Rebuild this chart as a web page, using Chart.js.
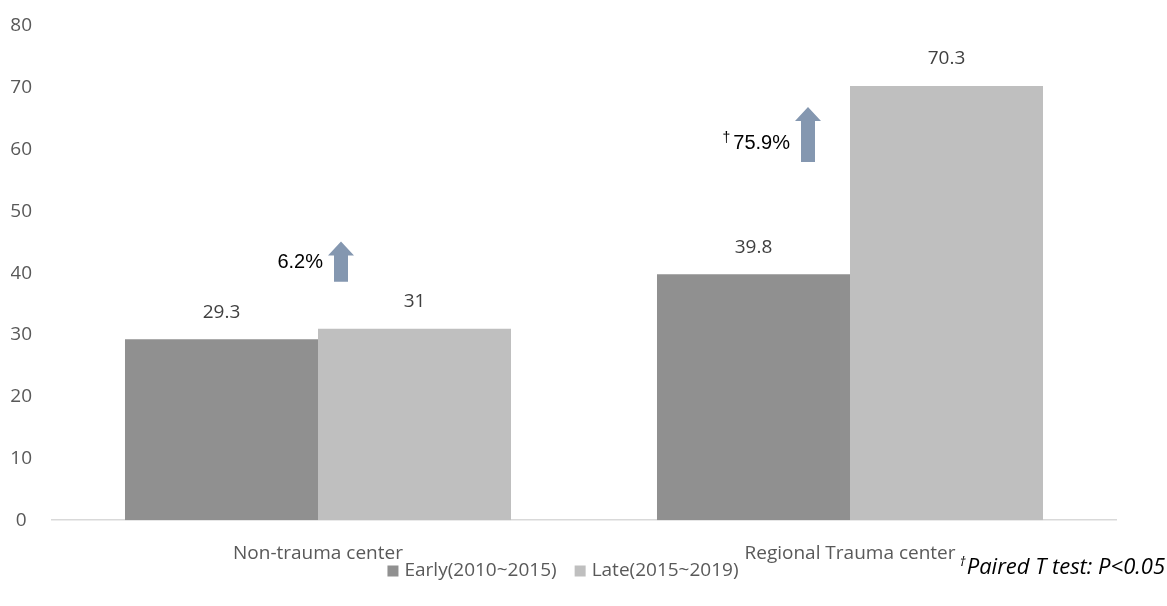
<!DOCTYPE html>
<html>
<head>
<meta charset="utf-8">
<script src="https://cdn.jsdelivr.net/npm/chart.js@4.4.1/dist/chart.umd.min.js"></script>
<style>
  html, body { margin: 0; padding: 0; background: #fff; }
  #wrap { width: 1167px; height: 606px; position: relative; }
</style>
</head>
<body>
<div id="wrap"><canvas id="graphe"></canvas></div>
<script>
// ---- données ----
const categories = ['Non-trauma center', 'Regional Trauma center'];
const nomsSeries = ['Early(2010~2015)', 'Late(2015~2019)'];
const valeursEarly = [29.3, 39.8];
const valeursLate = [31, 70.3];
const ticksY = [0, 10, 20, 30, 40, 50, 60, 70, 80];

// annotations (flèches de hausse)
const hausseTextes = ['6.2%', '75.9%'];
const hausseDague = [false, true];
const flecheBas = [38.6, 58.0];
const flecheHaut = [45.1, 66.9];
const texteNiveau = [41.7, 61.0];
const noteBas = 'Paired T test: P<0.05';

// ---- styles ----
const couleurs = ['#909090', '#bfbfbf'];
const couleurFleche = '#8497b0';
const grisTexte = '#595959';
const policeAxe = "'Open Sans', 'Noto Sans', sans-serif";
const decalageFleche = [23, -42];   // px par rapport au centre de la catégorie

const pluginAnnotations = {
    id: 'annotations',
    afterDatasetsDraw(chart) {
        const ctx = chart.ctx;
        const x = chart.scales.x;
        const y = chart.scales.y;

        // étiquettes de valeurs au-dessus des barres
        ctx.save();
        ctx.font = '19px ' + policeAxe;
        ctx.fillStyle = '#404040';
        ctx.textAlign = 'center';
        ctx.textBaseline = 'middle';
        chart.data.datasets.forEach((ds, i) => {
            chart.getDatasetMeta(i).data.forEach((barre, j) => {
                ctx.fillText(String(ds.data[j]), barre.x, barre.y - 27);
            });
        });
        ctx.restore();

        // flèches + pourcentages
        categories.forEach((c, i) => {
            const cx = x.getPixelForValue(i) + decalageFleche[i];
            const yb = y.getPixelForValue(flecheBas[i]);
            const yh = y.getPixelForValue(flecheHaut[i]);
            const tete = 14;
            ctx.save();
            ctx.fillStyle = couleurFleche;
            ctx.beginPath();
            ctx.moveTo(cx - 7, yb);
            ctx.lineTo(cx - 7, yh + tete);
            ctx.lineTo(cx - 13, yh + tete);
            ctx.lineTo(cx, yh);
            ctx.lineTo(cx + 13, yh + tete);
            ctx.lineTo(cx + 7, yh + tete);
            ctx.lineTo(cx + 7, yb);
            ctx.closePath();
            ctx.fill();

            const ty = y.getPixelForValue(texteNiveau[i]);
            ctx.fillStyle = '#000';
            ctx.textBaseline = 'middle';
            ctx.textAlign = 'right';
            ctx.font = '20px "Liberation Sans", Arial, sans-serif';
            const xt = cx - 18;
            ctx.fillText(hausseTextes[i], xt, ty);
            if (hausseDague[i]) {
                const w = ctx.measureText(hausseTextes[i]).width;
                ctx.font = '14px "Liberation Sans", Arial, sans-serif';
                ctx.fillText('†', xt - w - 3, ty - 5);
            }
            ctx.restore();
        });

        // légende dessinée à la main (plus serrée que celle de Chart.js)
        ctx.save();
        ctx.font = '19px ' + policeAxe;
        ctx.textBaseline = 'middle';
        ctx.textAlign = 'left';
        const largeurs = nomsSeries.map(n => 11 + 6 + ctx.measureText(n).width);
        const total = largeurs.reduce((a, b) => a + b, 0) + 18 * (nomsSeries.length - 1);
        let lx = 563 - total / 2;
        const ly = 571;
        nomsSeries.forEach((n, i) => {
            ctx.fillStyle = couleurs[i];
            ctx.fillRect(lx, ly - 5.5, 11, 11);
            ctx.fillStyle = grisTexte;
            ctx.fillText(n, lx + 17, ly);
            lx += largeurs[i] + 18;
        });
        ctx.restore();

        // note de bas de page
        ctx.save();
        ctx.fillStyle = '#000';
        ctx.textBaseline = 'middle';
        ctx.textAlign = 'right';
        ctx.font = 'italic 22px ' + policeAxe;
        ctx.fillText(noteBas, 1165, 568);
        const w = ctx.measureText(noteBas).width;
        ctx.font = 'italic 13px ' + policeAxe;
        ctx.fillText('†', 1165 - w - 1, 562);
        ctx.restore();
    }
};

new Chart(document.getElementById('graphe'), {
    type: 'bar',
    data: {
        labels: categories,
        datasets: [
            { label: nomsSeries[0], data: valeursEarly, backgroundColor: couleurs[0], borderWidth: 0 },
            { label: nomsSeries[1], data: valeursLate, backgroundColor: couleurs[1], borderWidth: 0 }
        ]
    },
    options: {
        responsive: true,
        maintainAspectRatio: false,
        animation: false,
        categoryPercentage: 0.7256,
        barPercentage: 1.0,
        layout: { padding: { top: 26, left: 11, right: 51, bottom: 19 } },
        plugins: {
            tooltip: { enabled: false },
            legend: { display: false }
        },
        scales: {
            x: {
                grid: { display: false, drawTicks: false },
                border: { display: true, color: '#d9d9d9', width: 1.5 },
                ticks: { color: grisTexte, padding: 22, font: { family: policeAxe, size: 19 } }
            },
            y: {
                min: 0,
                max: 80,
                afterBuildTicks: axe => { axe.ticks = ticksY.map(v => ({ value: v })); },
                afterFit: axe => { axe.width = 41; axe.paddingTop = 0; axe.paddingBottom = 0; },
                grid: { display: false, drawTicks: false },
                border: { display: false },
                ticks: { color: grisTexte, padding: 20, crossAlign: 'center', font: { family: policeAxe, size: 19 } }
            }
        }
    },
    plugins: [pluginAnnotations]
});
</script>
</body>
</html>
